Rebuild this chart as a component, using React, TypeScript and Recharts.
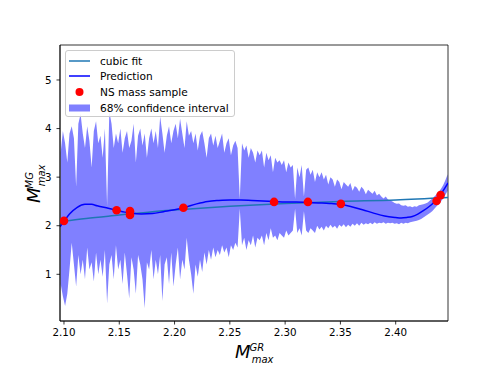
import React from 'react';
import {
  ComposedChart, Area, Line, Scatter, XAxis, YAxis, Legend, ReferenceArea,
} from 'recharts';

// ---------- data ----------
const xTicks = [2.1, 2.15, 2.2, 2.25, 2.3, 2.35, 2.4];
const yTicks = [1, 2, 3, 4, 5];
const xDomain = [2.0964, 2.4473];
const yDomain = [0.039, 5.72];

const seriesNames = ['cubic fit', 'Prediction', 'NS mass sample', '68% confidence interval'];

const sampleX = [2.1, 2.1476, 2.1597, 2.1597, 2.208, 2.29, 2.3206, 2.3504, 2.437, 2.4406];
const sampleY = [2.1, 2.32, 2.3, 2.22, 2.37, 2.49, 2.49, 2.45, 2.51, 2.63];

const cubicX = [2.0964, 2.12, 2.15, 2.18, 2.21, 2.25, 2.3, 2.35, 2.4, 2.4473];
const cubicY = [2.08, 2.15, 2.22, 2.29, 2.34, 2.4, 2.46, 2.5, 2.53, 2.58];

const predX = [2.0964, 2.1, 2.105, 2.112, 2.119, 2.125, 2.13, 2.14, 2.1476, 2.155, 2.16, 2.17, 2.18, 2.19, 2.2, 2.208,
  2.22, 2.23, 2.24, 2.25, 2.26, 2.27, 2.28, 2.29, 2.3, 2.31, 2.32, 2.33, 2.34, 2.35, 2.36, 2.37, 2.38, 2.39,
  2.4, 2.405, 2.41, 2.415, 2.42, 2.425, 2.43, 2.435, 2.44, 2.444, 2.4473];
const predY = [1.98, 2.09, 2.24, 2.38, 2.44, 2.44, 2.41, 2.36, 2.32, 2.28, 2.26, 2.24, 2.25, 2.29, 2.33, 2.37,
  2.45, 2.5, 2.52, 2.53, 2.53, 2.52, 2.51, 2.5, 2.49, 2.49, 2.48, 2.47, 2.46, 2.44, 2.39, 2.33, 2.26, 2.2,
  2.17, 2.16, 2.17, 2.19, 2.24, 2.31, 2.39, 2.49, 2.62, 2.76, 2.88];

const bandX = [
  2.097, 2.099, 2.101, 2.103, 2.105, 2.107, 2.109, 2.111, 2.113, 2.115,
  2.117, 2.119, 2.121, 2.123, 2.125, 2.127, 2.129, 2.131, 2.133, 2.135,
  2.137, 2.139, 2.141, 2.143, 2.145, 2.147, 2.149, 2.151, 2.153, 2.155,
  2.157, 2.159, 2.161, 2.163, 2.165, 2.167, 2.169, 2.171, 2.173, 2.175,
  2.177, 2.179, 2.181, 2.183, 2.185, 2.187, 2.189, 2.191, 2.193, 2.195,
  2.197, 2.199, 2.201, 2.203, 2.205, 2.207, 2.209, 2.211, 2.213, 2.215,
  2.217, 2.219, 2.221, 2.223, 2.225, 2.227, 2.229, 2.231, 2.233, 2.235,
  2.237, 2.239, 2.241, 2.243, 2.245, 2.247, 2.249, 2.251, 2.253, 2.255,
  2.257, 2.259, 2.261, 2.263, 2.265, 2.267, 2.269, 2.271, 2.273, 2.275,
  2.277, 2.279, 2.281, 2.283, 2.285, 2.287, 2.289, 2.291, 2.293, 2.295,
  2.297, 2.299, 2.301, 2.303, 2.305, 2.307, 2.309, 2.311, 2.313, 2.315,
  2.317, 2.319, 2.321, 2.323, 2.325, 2.327, 2.329, 2.331, 2.333, 2.335,
  2.337, 2.339, 2.341, 2.343, 2.345, 2.347, 2.349, 2.351, 2.353, 2.355,
  2.357, 2.359, 2.361, 2.363, 2.365, 2.367, 2.369, 2.371, 2.373, 2.375,
  2.377, 2.379, 2.381, 2.383, 2.385, 2.387, 2.389, 2.391, 2.393, 2.395,
  2.397, 2.399, 2.401, 2.403, 2.405, 2.407, 2.409, 2.411, 2.413, 2.415,
  2.417, 2.419, 2.421, 2.423, 2.425, 2.427, 2.429, 2.431, 2.433, 2.435,
  2.437, 2.439, 2.441, 2.443, 2.445, 2.447];
const bandHigh = [
  3.5, 3.95, 3.7, 3.3, 3.9, 4.05, 3.8, 2.8, 4.1, 4.3,
  3.9, 3.6, 4.05, 3.75, 3.2, 3.95, 4.15, 3.7, 3.85, 3.4,
  4.0, 2.4, 4.35, 4.1, 3.6, 3.9, 3.7, 4.0, 3.5, 3.8,
  3.95, 3.6, 3.75, 4.1, 3.3, 3.85, 4.0, 3.65, 3.9, 3.4,
  3.8, 4.0, 3.7, 3.95, 3.6, 4.25, 3.9, 3.5, 3.85, 4.05,
  3.7, 3.95, 4.1, 3.8, 4.2, 3.9, 3.6, 4.15, 3.85, 3.95,
  3.7, 3.9, 3.55, 3.85, 3.95, 3.7, 3.4, 3.8, 3.9, 3.65,
  3.85, 3.6, 3.75, 3.9, 3.5, 3.7, 3.8, 3.45, 3.65, 3.75,
  3.6, 2.55, 3.7, 3.55, 3.65, 3.4, 3.6, 3.5, 3.3, 3.55,
  3.45, 3.55, 3.2, 3.5, 3.35, 3.45, 3.1, 3.4, 3.3, 3.35,
  3.25, 3.35, 3.1, 3.3, 3.2, 3.25, 2.55, 3.2, 3.0, 3.25,
  2.6, 3.15, 3.2, 3.05, 3.15, 2.9, 3.1, 3.0, 3.1, 2.95,
  3.05, 2.85, 3.0, 2.95, 2.8, 2.95, 2.9, 2.75, 2.9, 2.85,
  2.8, 2.88, 2.72, 2.82, 2.78, 2.7, 2.8, 2.75, 2.65, 2.74,
  2.7, 2.66, 2.72, 2.62, 2.66, 2.6, 2.56, 2.6, 2.54, 2.52,
  2.5, 2.47, 2.45, 2.46, 2.42, 2.41, 2.42, 2.39, 2.4, 2.38,
  2.4, 2.39, 2.42, 2.43, 2.44, 2.46, 2.48, 2.52, 2.56, 2.6,
  2.65, 2.7, 2.76, 2.84, 2.94, 3.06];
const bandLow = [
  0.8, 0.55, 0.35, 0.6, 1.1, 1.65, 1.2, 0.75, 1.4, 1.0,
  1.3, 0.9, 1.55, 1.1, 1.25, 0.85, 1.45, 1.0, 1.3, 0.95,
  1.5, 0.4, 1.2, 1.4, 0.9, 1.6, 1.1, 1.3, 0.8, 1.45,
  1.0, 0.5, 1.35, 1.1, 0.6, 1.4, 1.2, 0.9, 0.3, 1.25,
  1.1, 1.5, 0.9, 1.3, 1.0, 1.4, 0.45, 1.2, 1.35, 0.8,
  1.45, 0.75, 1.2, 1.55, 0.9, 1.3, 1.1, 1.75, 1.3, 1.0,
  0.6, 1.2, 0.95, 1.3, 1.05, 1.45, 1.2, 1.5, 1.3, 1.55,
  1.35, 1.5, 1.4, 1.6, 1.45, 1.55, 1.35, 1.6, 1.5, 1.65,
  1.55, 2.35, 1.6, 1.75, 1.5, 1.7, 1.6, 1.8, 1.55, 1.75,
  1.7, 1.8, 1.6, 1.85, 1.7, 1.95, 1.75, 1.8, 1.7, 1.85,
  1.8, 1.75, 1.9, 1.8, 1.85, 1.9, 2.35, 1.85, 1.95, 1.8,
  2.3, 1.9, 1.85, 1.95, 1.9, 1.85, 2.0, 1.92, 1.98, 1.9,
  2.0, 1.95, 2.02, 1.96, 2.0, 1.94, 2.02, 1.98, 2.03, 1.97,
  2.02, 1.98, 2.04, 2.0, 2.05, 2.0, 2.06, 2.02, 2.05, 2.03,
  2.06, 2.03, 2.07, 2.04, 2.06, 2.05, 2.07, 2.04, 2.06, 2.05,
  2.06, 2.04, 2.05, 2.03, 2.06, 2.04, 2.06, 2.05, 2.07, 2.08,
  2.09, 2.1, 2.12, 2.14, 2.17, 2.2, 2.23, 2.26, 2.3, 2.35,
  2.4, 2.45, 2.5, 2.57, 2.64, 2.72];

// ---------- derived tables ----------
const bandData = bandX.map((x, i) => ({ x, range: [bandLow[i], bandHigh[i]] }));
const predData = predX.map((x, i) => ({ x, y: predY[i] }));
const cubicData = cubicX.map((x, i) => ({ x, y: cubicY[i] }));
const sampleData = sampleX.map((x, i) => ({ x, y: sampleY[i] }));

const FONT = 'DejaVu Sans';
const C_CUBIC = '#1f77b4';
const C_PRED = '#0000ff';
const C_DOT = '#ff0000';
const C_BAND = '#8080ff';

const XLabel = () => (
  <text fontFamily={FONT} fontStyle="italic" fill="#000">
    <tspan x={235} y={358} fontSize={18}>M</tspan>
    <tspan x={249.5} y={350.7} fontSize={10}>GR</tspan>
    <tspan x={251.7} y={363.3} fontSize={10}>max</tspan>
  </text>
);

const YLabel = () => (
  <text fontFamily={FONT} fontStyle="italic" fill="#000" transform="rotate(-90, 40, 203)">
    <tspan x={40} y={203} fontSize={18}>M</tspan>
    <tspan x={54.5} y={195.7} fontSize={10}>MG</tspan>
    <tspan x={56.7} y={208.3} fontSize={10}>max</tspan>
  </text>
);

const LegendBox = () => {
  const rowTop = (i: number) => 9.5 + i * 15.7;
  const handles = [
    <line key="h0" x1={3} x2={24} y1={8} y2={8} stroke={C_CUBIC} strokeWidth={1.5} />,
    <line key="h1" x1={3} x2={24} y1={8} y2={8} stroke={C_PRED} strokeWidth={1.5} />,
    <circle key="h2" cx={13.5} cy={8} r={4} fill={C_DOT} />,
    <rect key="h3" x={3} y={4.5} width={21} height={7} fill={C_BAND} />,
  ];
  return (
    <div style={{
      position: 'relative', width: 170, height: 67, boxSizing: 'border-box',
      background: 'rgba(255,255,255,0.8)', border: '1px solid #cccccc', borderRadius: 3,
      fontFamily: FONT, fontSize: 10.6, color: '#000',
    }}>
      {seriesNames.map((name, i) => (
        <div key={name} style={{ position: 'absolute', left: 0, top: rowTop(i) - 8, height: 16, width: 168 }}>
          <svg width={30} height={16} style={{ position: 'absolute', left: 0, top: 0 }}>{handles[i]}</svg>
          <span style={{ position: 'absolute', left: 34, top: 1, lineHeight: '14px', whiteSpace: 'nowrap' }}>{name}</span>
        </div>
      ))}
    </div>
  );
};

export default function App() {
  return (
    <div style={{ position: 'absolute', left: 0, top: 0, width: 498, height: 374, background: '#fff' }}>
      <ComposedChart width={498} height={374} margin={{ top: 45, right: 50, bottom: 23, left: 20 }}>
        <XAxis
          dataKey="x" type="number" domain={xDomain} allowDataOverflow ticks={xTicks}
          tickFormatter={(v: number) => v.toFixed(2)} height={30} tickSize={3.5} tickMargin={4}
          tick={{ fill: '#000', fontSize: 10.3, fontFamily: FONT }}
          axisLine={{ stroke: '#000', strokeWidth: 0.8 }} tickLine={{ stroke: '#000', strokeWidth: 0.8 }}
          label={<XLabel />}
        />
        <YAxis
          type="number" domain={yDomain} allowDataOverflow ticks={yTicks} width={40}
          tickSize={3.5} tickMargin={5}
          tick={{ fill: '#000', fontSize: 10.3, fontFamily: FONT }}
          axisLine={{ stroke: '#000', strokeWidth: 0.8 }} tickLine={{ stroke: '#000', strokeWidth: 0.8 }}
          label={<YLabel />}
        />
        <Area data={bandData} dataKey="range" type="linear" stroke="none" fill={C_BAND} fillOpacity={1}
          isAnimationActive={false} name={seriesNames[3]} />
        <Line data={cubicData} dataKey="y" type="monotone" stroke={C_CUBIC} strokeWidth={1.5} dot={false}
          isAnimationActive={false} name={seriesNames[0]} />
        <Line data={predData} dataKey="y" type="monotone" stroke={C_PRED} strokeWidth={1.5} dot={false}
          isAnimationActive={false} name={seriesNames[1]} />
        <Scatter data={sampleData} dataKey="y" fill={C_DOT} isAnimationActive={false} name={seriesNames[2]}
          shape={(p: any) => <circle cx={p.cx} cy={p.cy} r={4.3} fill={C_DOT} />} />
        <ReferenceArea x1={xDomain[0]} x2={xDomain[1]} y1={yDomain[0]} y2={yDomain[1]}
          fill="none" stroke="#000" strokeWidth={0.8} ifOverflow="visible" />
        <Legend layout="vertical" align="center" verticalAlign="middle" content={() => <LegendBox />}
          wrapperStyle={{ left: 65, top: 50, width: 170, height: 67 }} />
      </ComposedChart>
    </div>
  );
}
